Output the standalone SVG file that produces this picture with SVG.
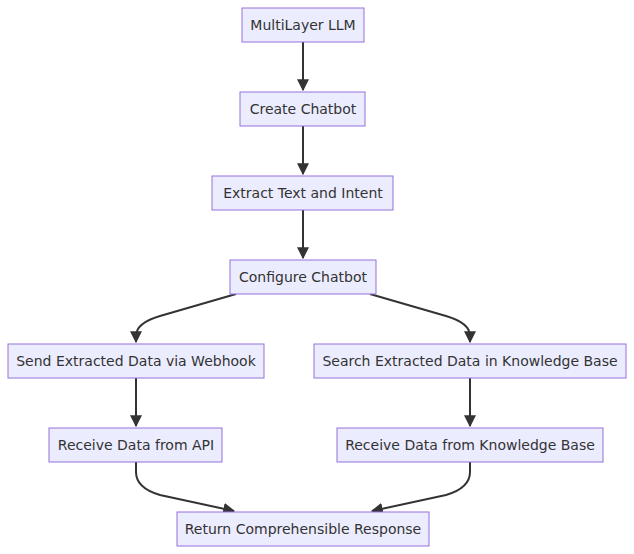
<svg xmlns="http://www.w3.org/2000/svg" width="634" height="554" viewBox="0 0 634 554">
<style>
.n rect{fill:#ECECFF;stroke:#9370DB;stroke-width:1}
.n text{font-family:"DejaVu Sans",Verdana,sans-serif;font-size:14px;fill:#333;text-anchor:middle;dominant-baseline:central}
.e path{fill:none;stroke:#333;stroke-width:2;marker-end:url(#a)}
</style>
<defs><marker id="a" viewBox="0 0 10 10" refX="9" refY="5" markerWidth="6" markerHeight="6" orient="auto"><path d="M0,0L10,5L0,10z" fill="#333"/></marker></defs>
<rect width="634" height="554" fill="#fff"/>
<g class="e">
<path d="M303,42V90"/>
<path d="M303,126V174"/>
<path d="M303,210V258"/>
<path d="M236,294L160,316Q136,323 136,336V342"/>
<path d="M370,294L446,316Q470,323 470,336V342"/>
<path d="M136,378V426"/>
<path d="M470,378V426"/>
<path d="M136,462V472Q136,488 160,495L234,511"/>
<path d="M470,462V472Q470,488 446,495L372,511"/>
</g>
<g id="n1" class="n"><rect x="242" y="8" width="122" height="34"/><text x="303" y="25">MultiLayer LLM</text></g>
<g id="n2" class="n"><rect x="240" y="92" width="125" height="34"/><text x="303" y="109">Create Chatbot</text></g>
<g id="n3" class="n"><rect x="212" y="176" width="181" height="34"/><text x="303" y="193">Extract Text and Intent</text></g>
<g id="n4" class="n"><rect x="230" y="260" width="146" height="34"/><text x="303" y="277">Configure Chatbot</text></g>
<g id="n5" class="n"><rect x="8" y="344" width="256" height="34"/><text x="136" y="361">Send Extracted Data via Webhook</text></g>
<g id="n6" class="n"><rect x="314" y="344" width="312" height="34"/><text x="470" y="361">Search Extracted Data in Knowledge Base</text></g>
<g id="n7" class="n"><rect x="49" y="428" width="173" height="34"/><text x="136" y="445">Receive Data from API</text></g>
<g id="n8" class="n"><rect x="337" y="428" width="266" height="34"/><text x="470" y="445">Receive Data from Knowledge Base</text></g>
<g id="n9" class="n"><rect x="177" y="512" width="252" height="34"/><text x="303" y="529">Return Comprehensible Response</text></g>
</svg>
